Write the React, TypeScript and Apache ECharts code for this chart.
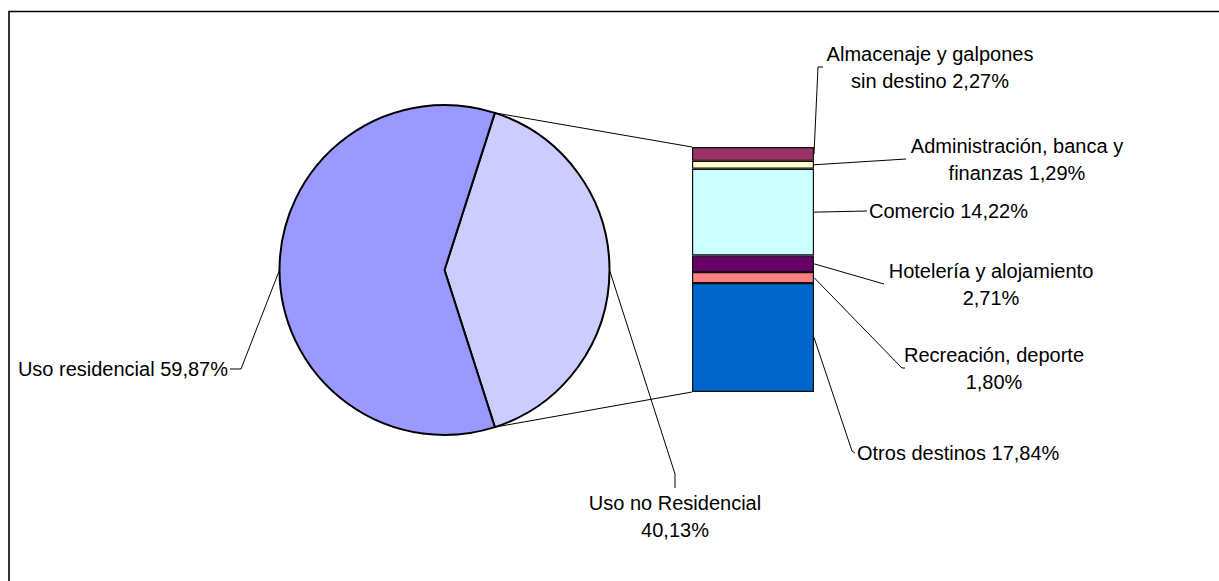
import React, { useEffect, useRef } from "react";
import * as echarts from "echarts";

// ---- Data ----
const pieNames = ["Uso no Residencial\n", "Uso residencial"];
const pieValues = [40.13, 59.87];
const pieColors = ["#CCCCFF", "#9999FF"];

// Bar (breakdown of "Uso no Residencial"), from bottom to top
const barNames = [
  "Otros destinos",
  "Recreación, deporte\n",
  "Hotelería y alojamiento\n",
  "Comercio",
  "Administración, banca y\nfinanzas",
  "Almacenaje y galpones\nsin destino",
];
const barValues = [17.84, 1.8, 2.71, 14.22, 1.29, 2.27];
const barColors = ["#0066CC", "#FF8080", "#660066", "#CCFFFF", "#FFFFCC", "#993366"];

// ---- Layout ----
const FONT = 'Arial, "Liberation Sans", sans-serif';
const PIE_CX = 444.5;
const PIE_CY = 270;
const PIE_R = 165;
const GRID = { left: 692, top: 147, width: 122, height: 245 };

type LabelLayout = { pts: number[][]; tx: number; ty: number; align: "left" | "center" | "right" };

const barLabelLayout: LabelLayout[] = [
  { pts: [[852, 451], [855, 453]], tx: 857, ty: 453, align: "left" },
  { pts: [[902, 368], [905, 368]], tx: 994, ty: 368, align: "center" },
  { pts: [[884, 284]], tx: 991, ty: 284, align: "center" },
  { pts: [[867, 211]], tx: 869, ty: 211, align: "left" },
  { pts: [[906, 159]], tx: 1017, ty: 159, align: "center" },
  { pts: [[818, 67], [823, 67]], tx: 930, ty: 67, align: "center" },
];

const pieLabelLayout: LabelLayout[] = [
  { pts: [[675, 474], [675, 488]], tx: 675, ty: 516, align: "center" },
  { pts: [[241, 369], [230, 369]], tx: 228, ty: 369, align: "right" },
];

const fmt = (v: number) => v.toFixed(2).replace(".", ",") + "%";
const makeLabel = (name: string, v: number) =>
  name.endsWith("\n") ? name + fmt(v) : name + " " + fmt(v);

export default function App() {
  const ref = useRef<HTMLDivElement>(null);

  useEffect(() => {
    if (!ref.current) return;
    const chart = echarts.init(ref.current, undefined, { renderer: "svg" });
    const total = barValues.reduce((a, b) => a + b, 0);
    const startAngle = (360 * pieValues[0]) / (pieValues[0] + pieValues[1]) / 2;

    chart.setOption({
      animation: false,
      backgroundColor: "#FFFFFF",
      grid: { ...GRID, containLabel: false },
      xAxis: { type: "category", data: [""], show: false },
      yAxis: { type: "value", min: 0, max: total, show: false },
      series: [
        {
          type: "pie",
          center: [PIE_CX, PIE_CY],
          radius: PIE_R,
          startAngle,
          clockwise: true,
          silent: true,
          label: { show: false },
          labelLine: { show: false },
          itemStyle: { borderColor: "#000", borderWidth: 2 },
          data: pieValues.map((v, i) => ({
            name: pieNames[i],
            value: v,
            itemStyle: { color: pieColors[i] },
          })),
        },
        ...barValues.map((v, i) => ({
          type: "bar",
          name: barNames[i],
          stack: "nr",
          barWidth: "100%",
          silent: true,
          data: [v],
          itemStyle: { color: barColors[i], borderColor: "#111", borderWidth: 1.2 },
        })),
      ],
    });

    // Build graphic overlay from the library's coordinate conversion
    const yPix = (val: number) => chart.convertToPixel({ yAxisIndex: 0 }, val) as number;
    const barLeft = GRID.left;
    const barRight = GRID.left + GRID.width;
    const graphics: any[] = [];

    // frame
    graphics.push({
      type: "rect",
      shape: { x: 9, y: 11.5, width: 1400, height: 800 },
      style: { fill: "none", stroke: "#000", lineWidth: 1.6 },
      silent: true,
    });

    // connector lines pie -> bar
    const a = (startAngle * Math.PI) / 180;
    const pTop = [PIE_CX + PIE_R * Math.cos(a), PIE_CY - PIE_R * Math.sin(a)];
    const pBot = [PIE_CX + PIE_R * Math.cos(-a), PIE_CY - PIE_R * Math.sin(-a)];
    graphics.push({
      type: "line",
      shape: { x1: pTop[0], y1: pTop[1], x2: barLeft, y2: yPix(total) },
      style: { stroke: "#000", lineWidth: 1 },
    });
    graphics.push({
      type: "line",
      shape: { x1: pBot[0], y1: pBot[1], x2: barLeft, y2: yPix(0) },
      style: { stroke: "#000", lineWidth: 1 },
    });

    // bar labels
    let cum = 0;
    barValues.forEach((v, i) => {
      const mid = yPix(cum + v / 2);
      cum += v;
      const L = barLabelLayout[i];
      graphics.push({
        type: "polyline",
        shape: { points: [[barRight, mid], ...L.pts] },
        style: { stroke: "#000", lineWidth: 1, fill: null },
      });
      graphics.push({
        type: "text",
        style: {
          text: makeLabel(barNames[i], v),
          x: L.tx,
          y: L.ty,
          fill: "#000",
          fontSize: 20,
          fontFamily: FONT,
          lineHeight: 27,
          align: L.align,
          verticalAlign: "middle",
        },
      });
    });

    // pie labels
    const pieTotal = pieValues[0] + pieValues[1];
    let angCum = startAngle;
    pieValues.forEach((v, i) => {
      const span = (360 * v) / pieTotal;
      const midDeg = angCum - span / 2;
      angCum -= span;
      const m = (midDeg * Math.PI) / 180;
      const edge = [PIE_CX + PIE_R * Math.cos(m), PIE_CY - PIE_R * Math.sin(m)];
      const L = pieLabelLayout[i];
      graphics.push({
        type: "polyline",
        shape: { points: [edge, ...L.pts] },
        style: { stroke: "#000", lineWidth: 1, fill: null },
      });
      graphics.push({
        type: "text",
        style: {
          text: makeLabel(pieNames[i], v),
          x: L.tx,
          y: L.ty,
          fill: "#000",
          fontSize: 20,
          fontFamily: FONT,
          lineHeight: 27,
          align: L.align,
          verticalAlign: "middle",
        },
      });
    });

    chart.setOption({ graphic: graphics });

    return () => chart.dispose();
  }, []);

  return (
    <div
      ref={ref}
      style={{ position: "fixed", left: 0, top: 0, width: 1219, height: 581, background: "#fff" }}
    />
  );
}
